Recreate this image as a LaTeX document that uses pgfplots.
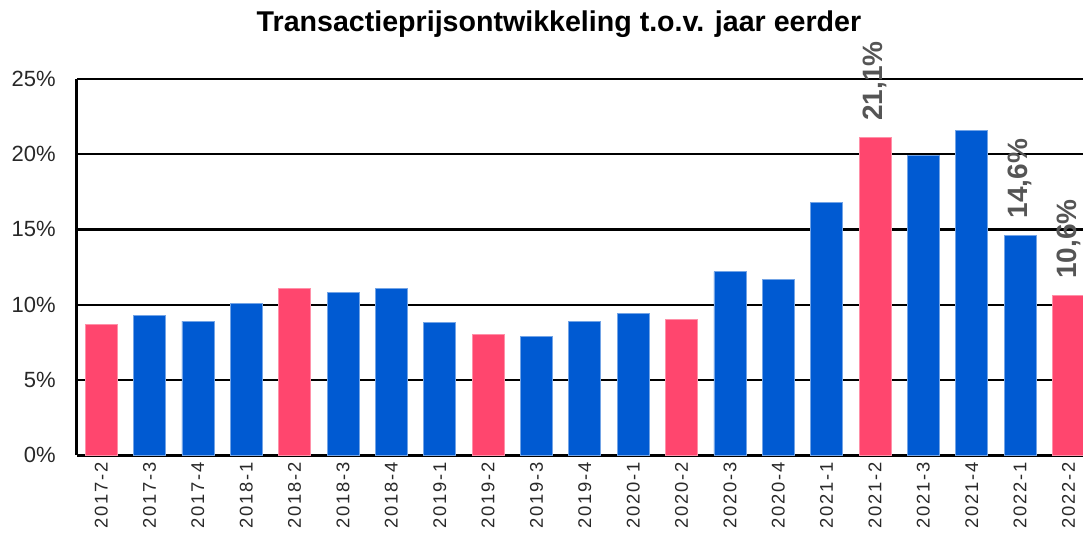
\documentclass[border=0pt]{standalone}
\usepackage{fontspec}
\setmainfont{Liberation Sans}
\usepackage{pgfplots}
\pgfplotsset{compat=1.18}
\definecolor{pinkbar}{RGB}{255,70,110}
\definecolor{bluebar}{RGB}{0,90,210}
\definecolor{lblgray}{RGB}{85,85,85}
\definecolor{tickgray}{RGB}{40,40,40}
\begin{document}
\begin{tikzpicture}
\begin{axis}[
  at={(0,0)}, anchor=south west, scale only axis,
  width=503pt, height=188pt,
  xmin=-0.5, xmax=20.3, ymin=0, ymax=25,
  axis lines*=left,
  axis line style={-, line width=1.5pt, black},
  ytick={0,5,10,15,20,25},
  yticklabels={0\%,5\%,10\%,15\%,20\%,25\%},
  ymajorgrids,
  major grid style={black, line width=1.1pt},
  major tick length=0pt,
  xtick={0,...,20},
  xticklabels={2017-2,2017-3,2017-4,2018-1,2018-2,2018-3,2018-4,2019-1,2019-2,2019-3,2019-4,2020-1,2020-2,2020-3,2020-4,2021-1,2021-2,2021-3,2021-4,2022-1,2022-2},
  xticklabel style={rotate=90, anchor=east, inner sep=0pt, outer sep=3.5pt, text=tickgray,
    font=\fontsize{9.2}{10}\selectfont\addfontfeature{LetterSpace=10}},
  yticklabel style={anchor=east, inner sep=0pt, xshift=-10.5pt, text=tickgray,
    font=\fontsize{11}{13}\selectfont},
]
\addplot[ybar, bar width=16pt, bar shift=0pt, fill=bluebar, draw=bluebar!55!white, line width=0.4pt]
  coordinates {(1,9.3) (2,8.9) (3,10.1) (5,10.8) (6,11.1) (7,8.8) (9,7.9) (10,8.9) (11,9.4) (13,12.2) (14,11.7) (15,16.8) (17,19.9) (18,21.6) (19,14.6)};
\addplot[ybar, bar width=16pt, bar shift=0pt, fill=pinkbar, draw=pinkbar!60!white, line width=0.4pt]
  coordinates {(0,8.7) (4,11.1) (8,8.0) (12,9.0) (16,21.1) (20,10.6)};
\addplot[draw=none, mark=none, nodes near coords, point meta=explicit symbolic,
  nodes near coords style={rotate=90, anchor=west, inner sep=0pt, outer sep=8.5pt, text=lblgray,
    font=\bfseries\fontsize{14}{16}\selectfont}]
  coordinates {(16,21.1)[21,1\%] (19,14.6)[14,6\%] (20,10.6)[10,6\%]};
\end{axis}
\node[font=\bfseries\fontsize{14.3}{16}\selectfont] at (241pt,215.5pt) {Transactieprijsontwikkeling t.o.v. jaar eerder};
\pgfresetboundingbox
\useasboundingbox (-38.5pt,-40.5pt) rectangle (503pt,227.5pt);
\end{tikzpicture}
\end{document}
